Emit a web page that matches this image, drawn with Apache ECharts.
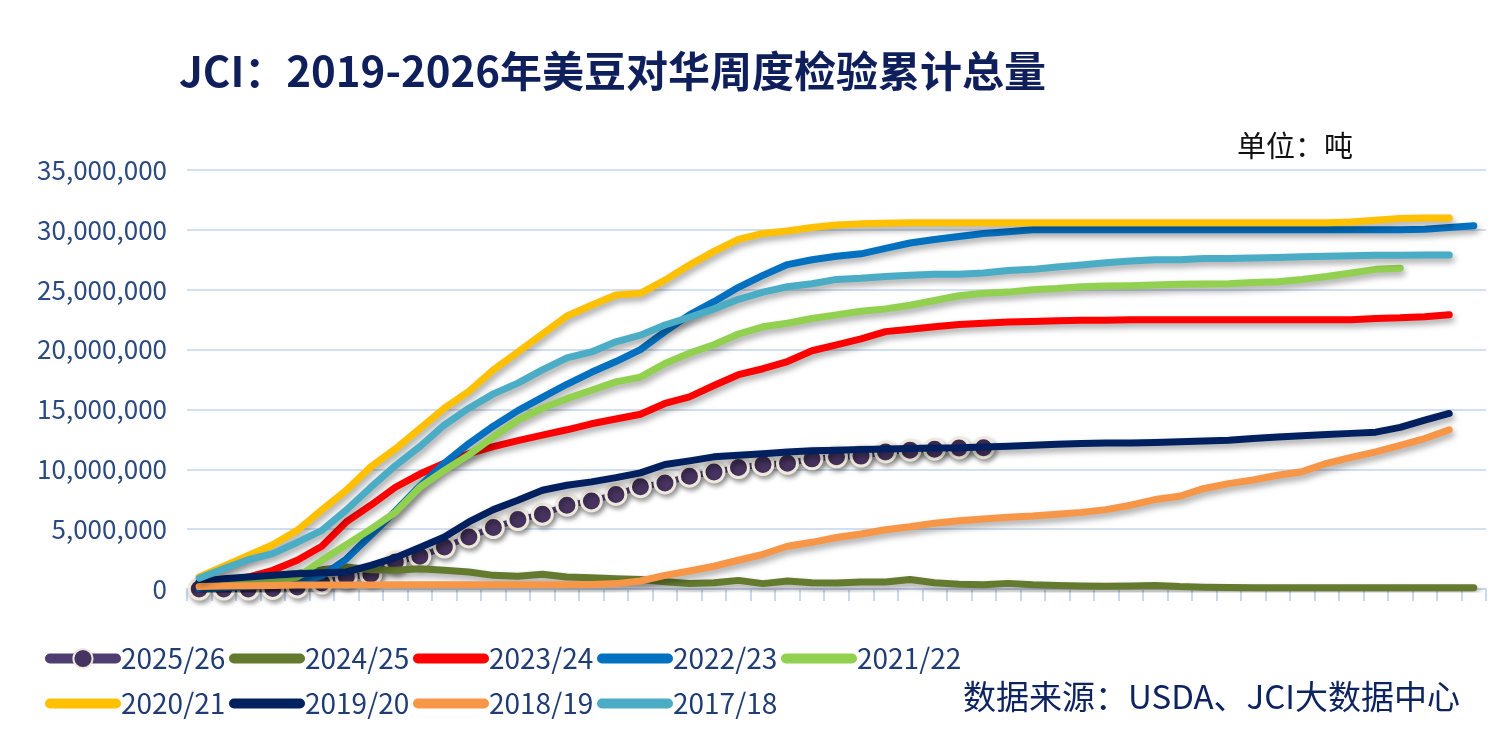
<!DOCTYPE html>
<html lang="zh">
<head>
<meta charset="UTF-8">
<title>JCI：2019-2026年美豆对华周度检验累计总量</title>
<script src="https://cdn.jsdelivr.net/npm/echarts@6/dist/echarts.min.js"></script>
<style>
    html, body { margin: 0; padding: 0; background: #fff; }
    #main { width: 1501px; height: 747px; }
</style>
</head>
<body>
<div id="main"></div>
<script>
    // 53 marketing-year weeks (x categories, labels hidden)
    var weeks = [1, 2, 3, 4, 5, 6, 7, 8, 9, 10, 11, 12, 13, 14, 15, 16, 17, 18, 19, 20,
        21, 22, 23, 24, 25, 26, 27, 28, 29, 30, 31, 32, 33, 34, 35, 36, 37, 38, 39, 40,
        41, 42, 43, 44, 45, 46, 47, 48, 49, 50, 51, 52, 53];

    // cumulative inspections, million tonnes
    var y2526 = [0, 0, 0, 0.05, 0.17, 0.5, 1.0, 1.23, 2.26, 2.73, 3.5, 4.35, 5.13, 5.8, 6.24, 7.0,
        7.36, 7.9, 8.55, 8.86, 9.42, 9.78, 10.14, 10.4, 10.5, 10.87, 11.04, 11.1, 11.45, 11.6,
        11.68, 11.78, 11.8];
    var y2425 = [0.6, 0.8, 0.95, 1.1, 1.3, 1.6, 1.84, 1.6, 1.56, 1.7, 1.56, 1.42, 1.14, 1.06, 1.23,
        1.0, 0.95, 0.86, 0.8, 0.6, 0.45, 0.53, 0.72, 0.45, 0.67, 0.53, 0.5, 0.58, 0.58, 0.8, 0.53,
        0.39, 0.36, 0.47, 0.36, 0.3, 0.25, 0.22, 0.25, 0.3, 0.2, 0.15, 0.12, 0.1, 0.1, 0.1, 0.1,
        0.1, 0.1, 0.1, 0.1, 0.1, 0.1];
    var y2324 = [0.3, 0.6, 1.0, 1.56, 2.4, 3.57, 5.6, 7.0, 8.5, 9.6, 10.5, 11.3, 11.9, 12.4, 12.85,
        13.3, 13.8, 14.2, 14.6, 15.5, 16.05, 17.0, 17.9, 18.4, 19.0, 19.9, 20.4, 20.9, 21.5, 21.7,
        21.9, 22.1, 22.2, 22.3, 22.35, 22.4, 22.45, 22.45, 22.5, 22.5, 22.5, 22.5, 22.5, 22.5,
        22.5, 22.5, 22.5, 22.5, 22.6, 22.65, 22.75, 22.9];
    var y2223 = [0.0, 0.1, 0.2, 0.3, 0.5, 1.1, 2.5, 4.5, 6.5, 8.6, 10.5, 12.15, 13.6, 14.9, 16.0,
        17.1, 18.1, 19.0, 20.0, 21.5, 22.9, 24.0, 25.2, 26.2, 27.1, 27.5, 27.8, 28.0, 28.45, 28.9,
        29.2, 29.45, 29.7, 29.85, 30.0, 30.0, 30.0, 30.0, 30.0, 30.0, 30.0, 30.0, 30.0, 30.0,
        30.0, 30.0, 30.0, 30.0, 30.0, 30.0, 30.05, 30.2, 30.35];
    var y2122 = [0.2, 0.4, 0.5, 0.6, 1.0, 2.4, 3.7, 5.0, 6.4, 8.5, 9.9, 11.2, 12.7, 14.1, 15.1,
        15.9, 16.6, 17.3, 17.7, 18.84, 19.7, 20.4, 21.3, 21.9, 22.2, 22.6, 22.9, 23.2, 23.4, 23.7,
        24.1, 24.5, 24.7, 24.8, 25.0, 25.1, 25.25, 25.3, 25.33, 25.4, 25.45, 25.47, 25.5, 25.6,
        25.67, 25.86, 26.1, 26.4, 26.7, 26.8];
    var y2021 = [1.0, 1.9, 2.8, 3.7, 4.9, 6.6, 8.25, 10.2, 11.7, 13.4, 15.1, 16.5, 18.3, 19.8, 21.3,
        22.8, 23.7, 24.55, 24.7, 25.8, 27.06, 28.2, 29.2, 29.7, 29.9, 30.2, 30.4, 30.5, 30.55, 30.6,
        30.6, 30.6, 30.6, 30.6, 30.6, 30.6, 30.6, 30.6, 30.6, 30.6, 30.6, 30.6, 30.6, 30.6, 30.6,
        30.6, 30.6, 30.65, 30.8, 30.95, 31.0, 31.0];
    var y1920 = [0.6, 0.85, 1.0, 1.15, 1.28, 1.35, 1.42, 1.98, 2.62, 3.46, 4.35, 5.6, 6.63, 7.41,
        8.25, 8.67, 8.95, 9.3, 9.7, 10.4, 10.7, 11.04, 11.18, 11.3, 11.45, 11.54, 11.6, 11.65, 11.7,
        11.73, 11.78, 11.8, 11.87, 11.93, 12.0, 12.1, 12.15, 12.2, 12.2, 12.24, 12.3, 12.37, 12.43,
        12.57, 12.7, 12.8, 12.9, 13.0, 13.1, 13.5, 14.1, 14.66];
    var y1819 = [0.2, 0.25, 0.28, 0.3, 0.33, 0.33, 0.34, 0.34, 0.35, 0.35, 0.35, 0.35, 0.36, 0.36,
        0.36, 0.36, 0.38, 0.45, 0.67, 1.14, 1.5, 1.9, 2.4, 2.9, 3.57, 3.9, 4.3, 4.6, 4.95, 5.2, 5.5,
        5.7, 5.85, 6.0, 6.1, 6.25, 6.4, 6.63, 7.0, 7.47, 7.75, 8.4, 8.8, 9.1, 9.5, 9.8, 10.5, 11.0,
        11.45, 12.0, 12.57, 13.3];
    var y1718 = [0.9, 1.7, 2.45, 2.95, 3.9, 4.9, 6.6, 8.5, 10.3, 11.9, 13.7, 15.1, 16.3, 17.2, 18.3,
        19.3, 19.8, 20.65, 21.2, 22.05, 22.7, 23.4, 24.2, 24.8, 25.25, 25.5, 25.86, 25.95, 26.1,
        26.2, 26.3, 26.3, 26.4, 26.6, 26.7, 26.9, 27.06, 27.26, 27.4, 27.5, 27.5, 27.6, 27.6, 27.65,
        27.7, 27.76, 27.8, 27.84, 27.87, 27.87, 27.9, 27.9];

    var seasons = ['2025/26', '2024/25', '2023/24', '2022/23', '2021/22',
        '2020/21', '2019/20', '2018/19', '2017/18'];
    var seasonData = [y2526, y2425, y2324, y2223, y2122, y2021, y1920, y1819, y1718];
    var seasonColors = ['#4F3D70', '#637A2F', '#FF0000', '#0070C0', '#92D050',
        '#FFC000', '#002060', '#F79646', '#4BACC6'];

    var font = '"Noto Sans CJK SC", "Noto Sans", sans-serif';

    var seriesList = [];
    var legendItems = [];
    for (let i = 0; i < seasons.length; i++) {
        let s = {
            name: seasons[i],
            type: 'line',
            data: seasonData[i],
            symbol: 'none',
            smooth: false,
            animation: false,
            z: 3,
            lineStyle: {
                color: seasonColors[i],
                width: 7,
                cap: 'round',
                join: 'round',
                shadowColor: 'rgba(0,0,0,0.35)',
                shadowBlur: 6,
                shadowOffsetX: 2,
                shadowOffsetY: 4
            },
            itemStyle: { color: seasonColors[i] }
        };
        if (i === 0) {
            // current season: line with markers, kept under the other lines
            s.z = 2;
            s.symbol = 'circle';
            s.symbolSize = 20;
            s.showSymbol = true;
            s.showAllSymbol = true;
            s.lineStyle.width = 6;
            s.itemStyle = {
                color: '#47335F',
                borderColor: '#EEE9DC',
                borderWidth: 3,
                shadowColor: 'rgba(0,0,0,0.35)',
                shadowBlur: 5,
                shadowOffsetX: 2,
                shadowOffsetY: 3
            };
            legendItems.push({ name: seasons[i] });
        } else {
            // plain line in the legend, no dot
            legendItems.push({ name: seasons[i], itemStyle: { opacity: 0 } });
        }
        seriesList.push(s);
    }

    var chart = echarts.init(document.getElementById('main'));
    var option = {
        backgroundColor: '#ffffff',
        textStyle: { fontFamily: font },
        title: {
            text: 'JCI：2019-2026年美豆对华周度检验累计总量',
            left: 174,
            top: 45,
            textStyle: {
                fontFamily: font,
                fontSize: 42,
                fontWeight: 'bold',
                color: '#0E1F5B'
            }
        },
        legend: {
            data: legendItems,
            left: 45,
            top: 636,
            width: 1000,
            itemGap: 0,
            itemWidth: 66,
            itemHeight: 24,
            padding: 0,
            lineStyle: {
                width: 10,
                cap: 'round',
                shadowBlur: 0,
                shadowColor: 'transparent',
                shadowOffsetX: 0,
                shadowOffsetY: 0
            },
            textStyle: {
                fontFamily: font,
                fontSize: 28,
                color: '#1F3C74',
                width: 108,
                lineHeight: 45,
                padding: [0, 0, 0, 0]
            }
        },
        grid: {
            left: 187,
            right: 15,
            top: 170,
            bottom: 158,
            containLabel: false
        },
        xAxis: {
            type: 'category',
            data: weeks,
            boundaryGap: true,
            axisLine: { lineStyle: { color: '#C8D8EE', width: 2 } },
            axisTick: { show: true, interval: 0, length: 12, lineStyle: { color: '#C8D8EE', width: 2 } },
            axisLabel: { show: false },
            splitLine: { show: false }
        },
        yAxis: {
            type: 'value',
            min: 0,
            max: 35,
            interval: 5,
            axisLine: { show: false },
            axisTick: { show: false },
            axisLabel: {
                margin: 20,
                fontSize: 26,
                fontFamily: font,
                color: '#2A4A80',
                formatter: function (v) {
                    return (v * 1000000).toLocaleString('en-US');
                }
            },
            splitLine: { lineStyle: { color: '#D3E0F2', width: 2 } }
        },
        graphic: [
            {
                type: 'text',
                left: 1237,
                top: 131,
                style: {
                    text: '单位：吨',
                    font: '29px ' + font,
                    fill: '#111111'
                }
            },
            {
                type: 'text',
                right: 41,
                top: 680,
                style: {
                    text: '数据来源：USDA、JCI大数据中心',
                    font: '33px ' + font,
                    fill: '#0E2461'
                }
            }
        ],
        series: seriesList
    };
    chart.setOption(option);
</script>
</body>
</html>
